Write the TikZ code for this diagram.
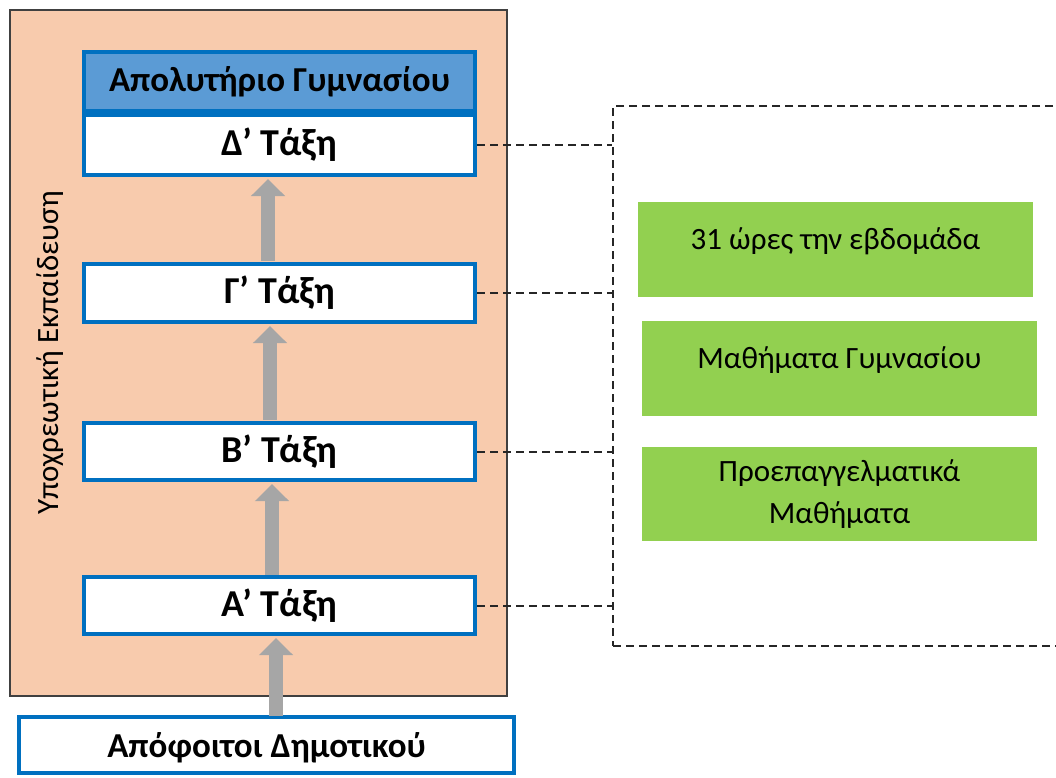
\documentclass[tikz,border=0pt]{standalone}
\usepackage{fontspec}
\setmainfont{Carlito}
\usetikzlibrary{arrows.meta}
\definecolor{peach}{HTML}{F8CBAD}
\definecolor{frameline}{HTML}{404040}
\definecolor{bluefill}{HTML}{5B9BD5}
\definecolor{blueline}{HTML}{0070C0}
\definecolor{greenfill}{HTML}{92D050}
\definecolor{arrowgray}{HTML}{A6A6A6}
\definecolor{dashcol}{HTML}{262626}
\tikzset{
  tbox/.style={draw=blueline, line width=4pt, fill=white, minimum width=391pt,
    font=\fontsize{35}{40}\selectfont\bfseries, inner sep=0pt},
  classbox/.style={tbox, font=\fontsize{38}{42}\selectfont\bfseries},
  gbox/.style={fill=greenfill, minimum width=395pt, minimum height=95pt,
    font=\fontsize{31}{42}\selectfont, align=center, inner sep=0pt},
  uparrow/.style={draw=arrowgray, line width=14pt,
    -{Triangle[width=33pt,length=17pt]}},
  conn/.style={line width=2pt, dash pattern=on 8pt off 5pt, draw=dashcol},
}
\begin{document}
\begin{tikzpicture}[x=1pt,y=-1pt]
\useasboundingbox (0,0) rectangle (1056,777);
\clip (0,0) rectangle (1056,777);
\fill[white] (0,0) rectangle (1056,777);
% outer area
\node[draw=frameline, line width=2pt, fill=peach, minimum width=497pt, minimum height=686pt, anchor=north west, inner sep=0pt] (area) at (9,9) {};
\node[rotate=90, font=\fontsize{31}{34}\selectfont] (label) at (50,353) {Υποχρεωτική Εκπαίδευση};
% boxes
\node[tbox, fill=bluefill, minimum height=59pt] (cert) at (279.5,81.5) {Απολυτήριο Γυμνασίου};
\node[classbox, minimum height=60pt] (d) at (279.5,145) {Δ’ Τάξη};
\node[classbox, minimum height=58pt] (c) at (279.5,293) {Γ’ Τάξη};
\node[classbox, minimum height=57pt] (b) at (279.5,451.5) {Β’ Τάξη};
\node[classbox, minimum height=57pt] (a) at (279.5,605.5) {Α’ Τάξη};
\node[tbox, minimum width=495pt, minimum height=56pt, text height=27pt, text depth=3pt] (grad) at (266.5,745) {Απόφοιτοι Δημοτικού};
% arrows
\coordinate (g0) at (276,716);
\coordinate (a0) at (276,638);
\draw[uparrow] (g0) -- (a0);
\draw[uparrow] (272,575) coordinate (a1) -- (272,484) coordinate (b1);
\draw[uparrow] (270,420) coordinate (b2) -- (270,326) coordinate (c2);
\draw[uparrow] (268,261) coordinate (c3) -- (268,179) coordinate (d3);
% dashed frame
\node[draw, conn, minimum width=470pt, minimum height=540pt, anchor=north west, inner sep=0pt] (frame) at (612,105) {};
\draw[conn] (d.east) -- (d.east -| frame.west);
\draw[conn] (c.east) -- (c.east -| frame.west);
\draw[conn] (b.east) -- (b.east -| frame.west);
\draw[conn] (a.east) -- (a.east -| frame.west);
% green boxes
\node[gbox, text height=18pt, text depth=18pt] (g1) at (835.5,249) {31 ώρες την εβδομάδα};
\node[gbox, text height=18pt, text depth=18pt] (g2) at (839.5,368.5) {Μαθήματα Γυμνασίου};
\node[gbox, minimum height=94pt] (g3) at (839.5,494) {Προεπαγγελματικά\\Μαθήματα};
\end{tikzpicture}
\end{document}
